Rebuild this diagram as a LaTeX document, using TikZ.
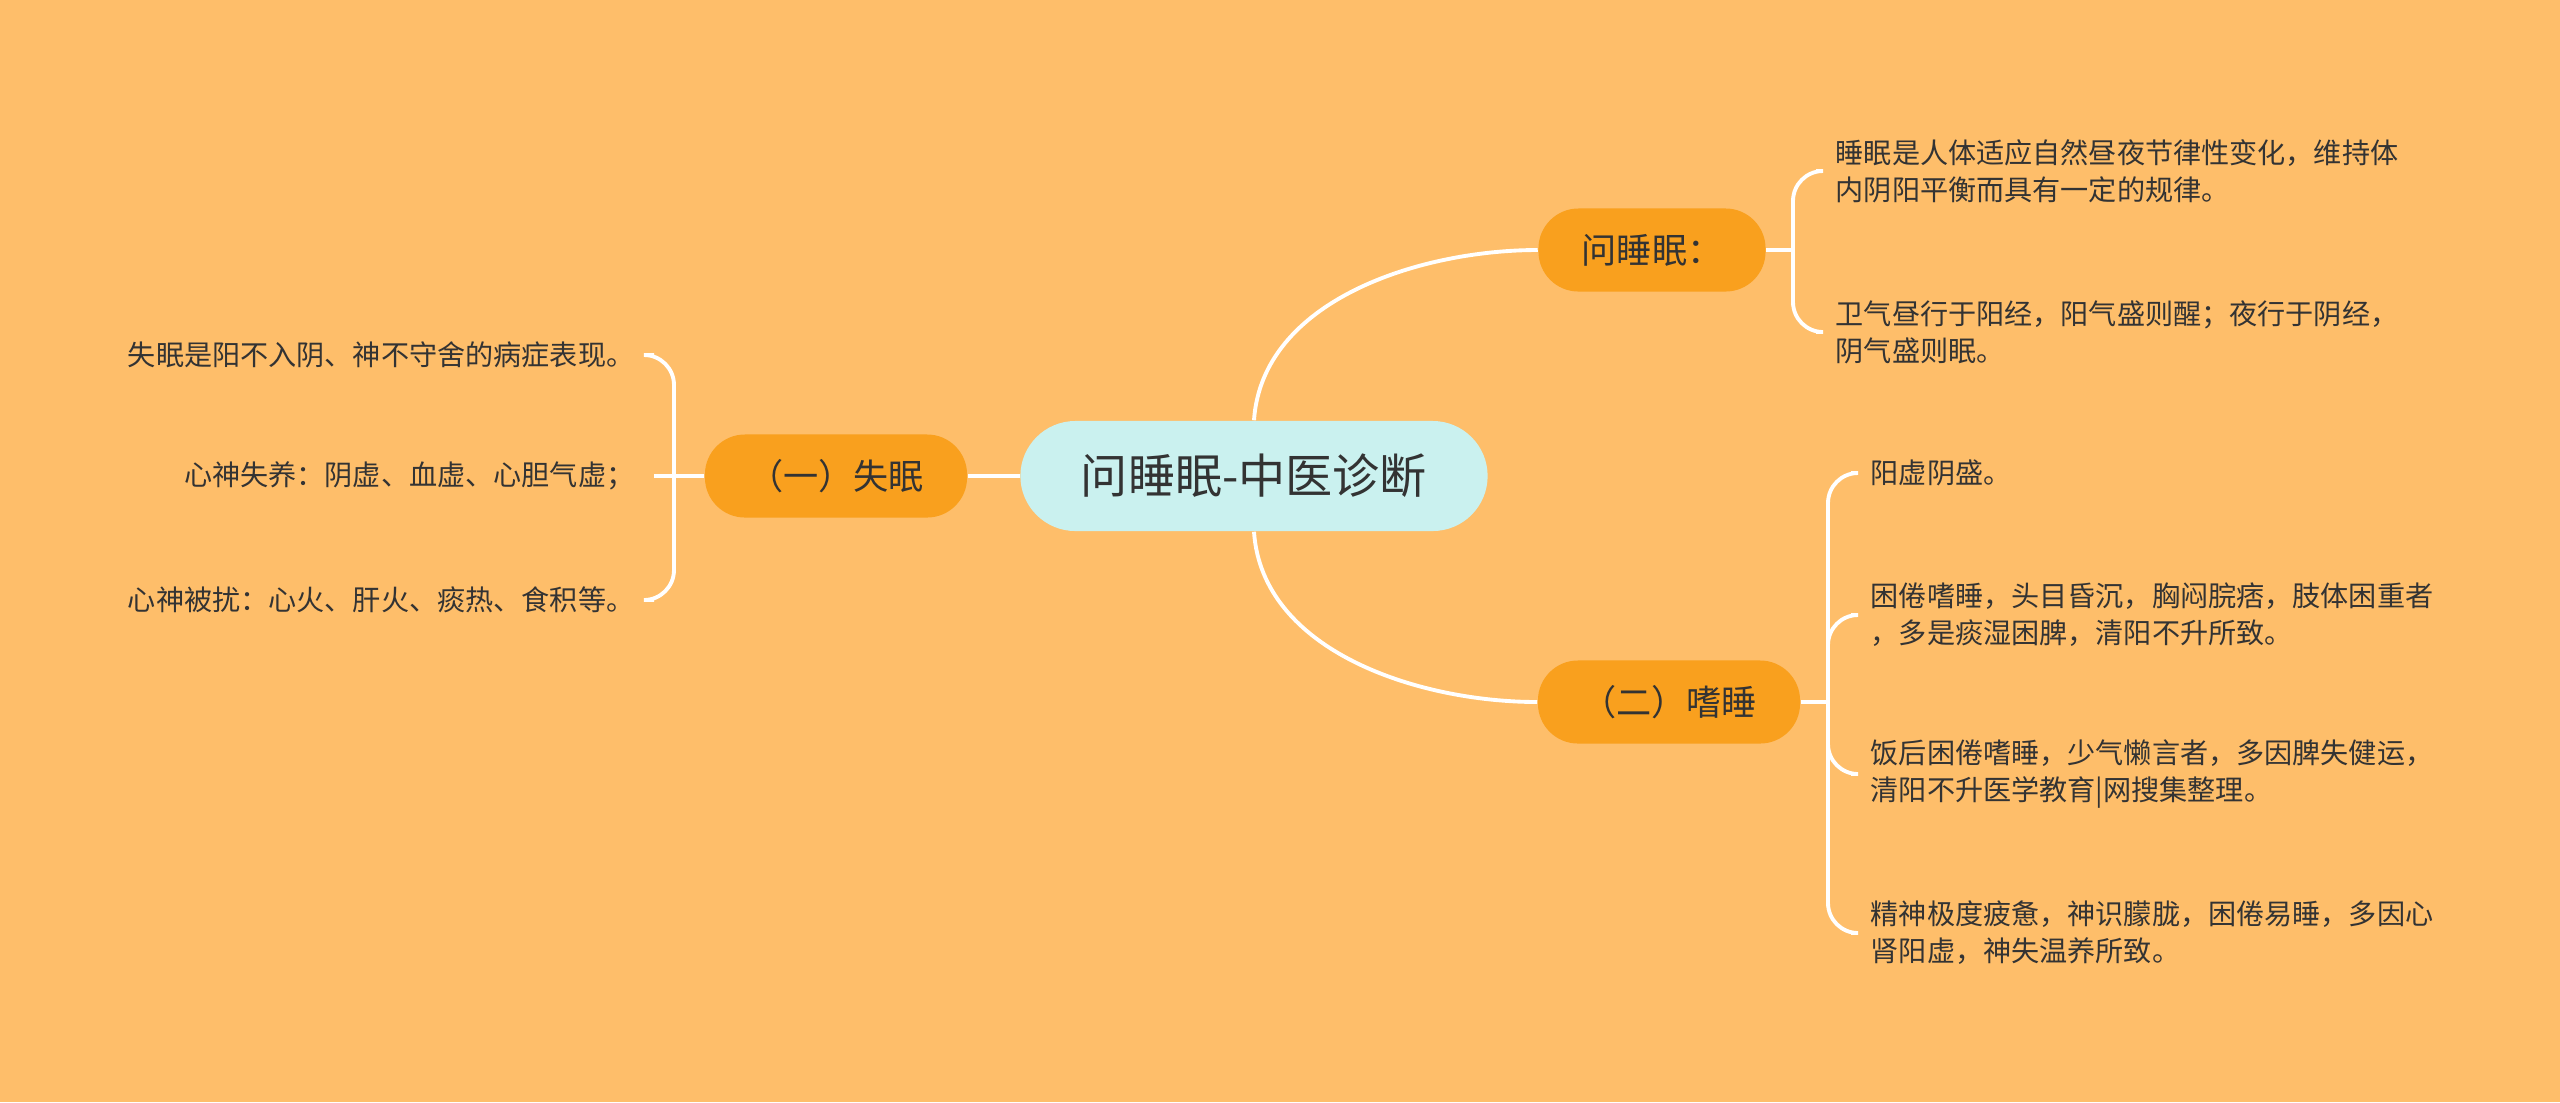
\documentclass[tikz,border=0pt]{standalone}
\usepackage{fontspec}
\setmainfont{Noto Sans CJK SC}
\definecolor{bgorange}{RGB}{254,190,106}
\definecolor{nodeorange}{RGB}{249,160,30}
\definecolor{rootcyan}{RGB}{202,241,239}
\definecolor{inkgray}{RGB}{51,51,51}
\tikzset{
	rootnode/.style={fill=rootcyan, rounded corners=0.55cm, minimum width=4.67cm, minimum height=1.1cm, text=inkgray, font=\fontsize{13.4pt}{16pt}\selectfont},
	branchnode/.style={fill=nodeorange, rounded corners=0.4cm, minimum height=0.83cm, text=inkgray, font=\fontsize{10pt}{12pt}\selectfont},
	leaftext/.style={inner ysep=0pt, inner xsep=0.19cm, text=inkgray, font=\fontsize{8pt}{10.5pt}\selectfont},
	link/.style={draw=white, line width=1.1pt, rounded corners=0.3cm}
}
\begin{document}
\begin{tikzpicture}[x=0.01cm, y=-0.01cm]
							\fill[bgorange] (0,0) rectangle (2560,1102);
							\useasboundingbox (0,0) rectangle (2560,1102);
							
							\node[rootnode] (root) at (1254,476) {问睡眠-中医诊断};
							\node[branchnode, minimum width=2.27cm] (wen) at (1652,250) {问睡眠：};
							\node[branchnode, minimum width=2.62cm] (shimian) at (836,476) {（一）失眠};
							\node[branchnode, minimum width=2.62cm] (shishui) at (1669,702) {（二）嗜睡};
							
							\node[leaftext, anchor=west, align=left] (wen1) at (1816,171) {睡眠是人体适应自然昼夜节律性变化，维持体\\内阴阳平衡而具有一定的规律。};
							\node[leaftext, anchor=west, align=left] (wen2) at (1816,332) {卫气昼行于阳经，阳气盛则醒；夜行于阴经，\\阴气盛则眠。};
							
							\node[leaftext, anchor=east, align=right] (shimian1) at (654,355) {失眠是阳不入阴、神不守舍的病症表现。};
							\node[leaftext, anchor=east, align=right] (shimian2) at (654,476) {心神失养：阴虚、血虚、心胆气虚；};
							\node[leaftext, anchor=east, align=right] (shimian3) at (654,600) {心神被扰：心火、肝火、痰热、食积等。};
							
							\node[leaftext, anchor=west, align=left] (shishui1) at (1851,473) {阳虚阴盛。};
							\node[leaftext, anchor=west, align=left] (shishui2) at (1851,615) {困倦嗜睡，头目昏沉，胸闷脘痞，肢体困重者\\，多是痰湿困脾，清阳不升所致。};
							\node[leaftext, anchor=west, align=left] (shishui3) at (1851,774) {饭后困倦嗜睡，少气懒言者，多因脾失健运，\\清阳不升医学教育|网搜集整理。};
							\node[leaftext, anchor=west, align=left] (shishui4) at (1851,933) {精神极度疲惫，神识朦胧，困倦易睡，多因心\\肾阳虚，神失温养所致。};
							
							\coordinate (wenj) at (1793,250);
							\coordinate (shimianj) at (674,476);
							\coordinate (shishuij) at (1828,702);
							
							\draw[link] (root.north) .. controls +(8,-120) and +(-118,0) .. (wen.west);
							\draw[link] (root.south) .. controls +(8,120) and +(-118,0) .. (shishui.west);
							\draw[link] (root.west) -- (shimian.east);
							
							\draw[link] (wen.east) -- (wenj);
							\draw[link] (wenj) |- (wen1.west);
							\draw[link] (wenj) |- (wen2.west);
							
							\draw[link] (shimian.west) -- (shimianj);
							\draw[link] (shimianj) |- (shimian1.east);
							\draw[link] (shimianj) -- (shimian2.east);
							\draw[link] (shimianj) |- (shimian3.east);
							
							\draw[link] (shishui.east) -- (shishuij);
							\draw[link] (shishuij) |- (shishui1.west);
							\draw[link] (shishuij) |- (shishui2.west);
							\draw[link] (shishuij) |- (shishui3.west);
							\draw[link] (shishuij) |- (shishui4.west);
						\end{tikzpicture}
\end{document}
